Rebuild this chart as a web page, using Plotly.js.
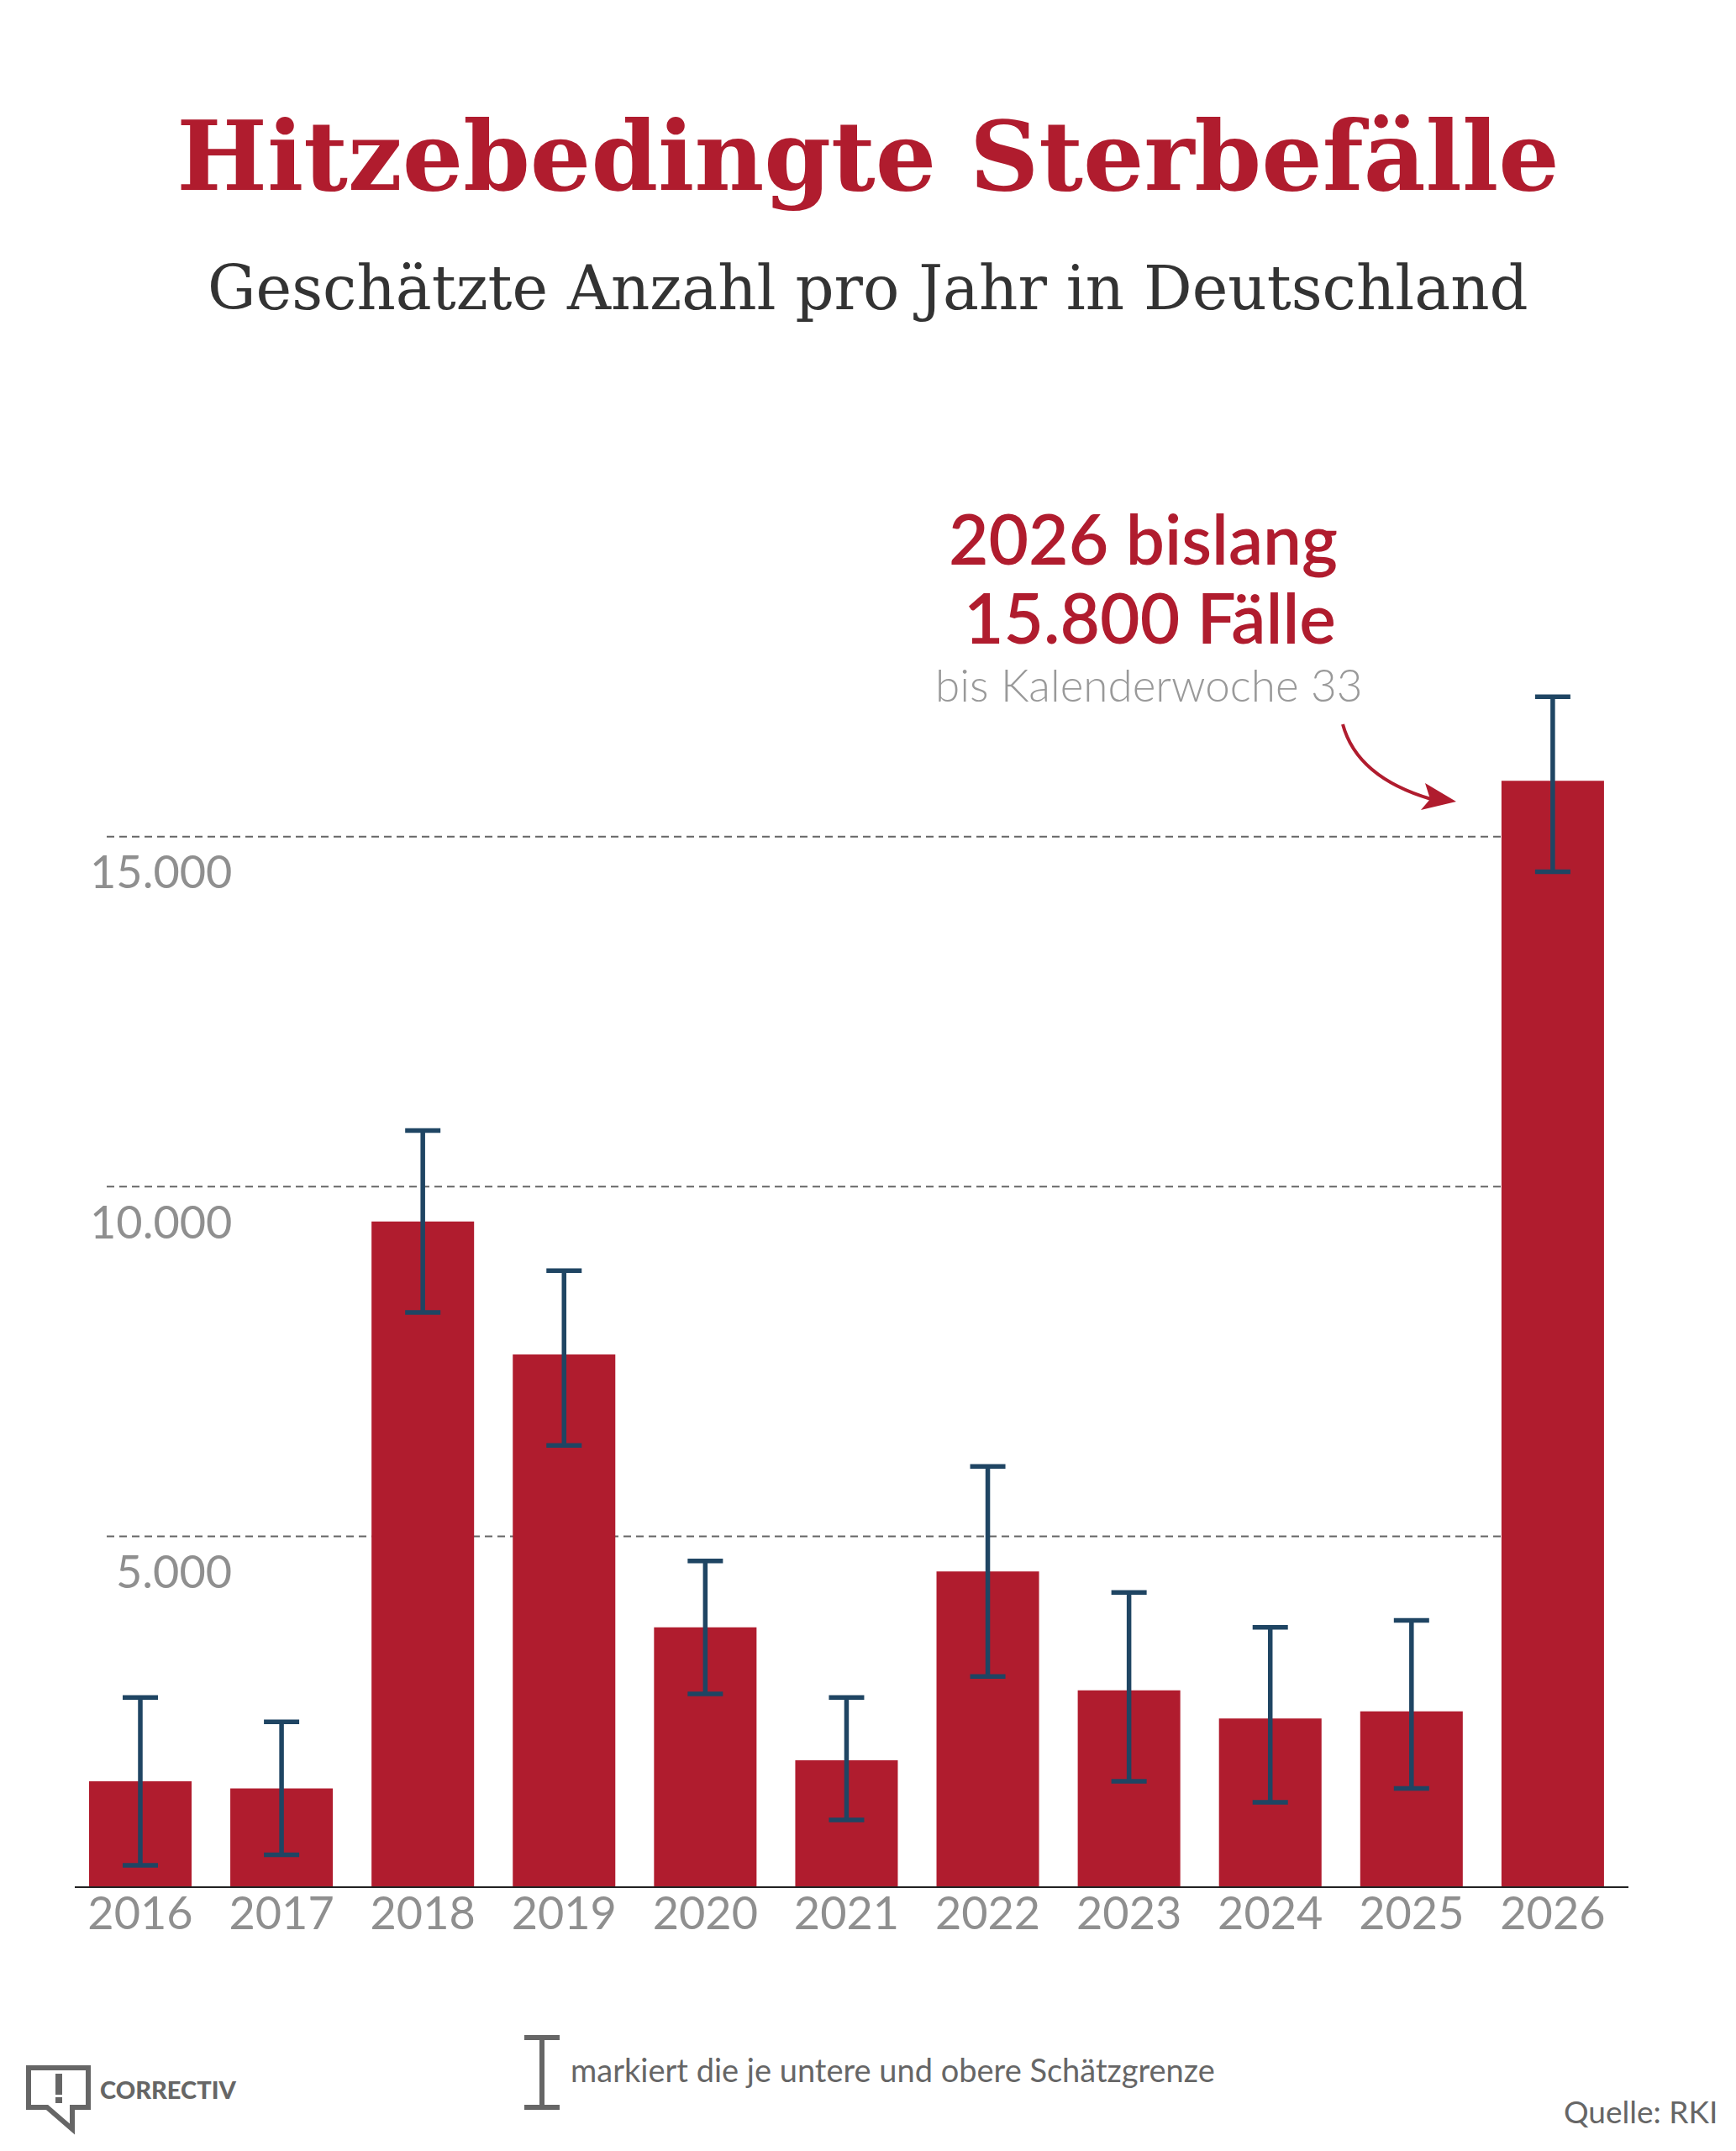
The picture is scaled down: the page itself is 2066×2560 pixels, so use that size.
<!DOCTYPE html>
<html>
<head>
<meta charset="utf-8">
<script src="https://cdn.plot.ly/plotly-3.0.1.min.js"></script>
<style>html,body{margin:0;padding:0;background:#fff;}#chart{width:2066px;height:2560px;}</style>
</head>
<body>
<div id="chart"></div>
<script>
// ---- data ----
const years = ["2016","2017","2018","2019","2020","2021","2022","2023","2024","2025","2026"];
const deaths = [1500, 1400, 9500, 7600, 3700, 1800, 4500, 2800, 2400, 2500, 15800];
const upperBound = [2700, 2350, 10800, 8800, 4650, 2700, 6000, 4200, 3700, 3800, 17000];
const lowerBound = [300, 450, 8200, 6300, 2750, 950, 3000, 1500, 1200, 1400, 14500];
const yTickValues = [5000, 10000, 15000];
const yTickLabels = ["5.000", "10.000", "15.000"];

// ---- layout geometry (pixels) ----
const W = 2066, H = 2560, L = 89, R = 128, T = 746, B = 315;
const PW = W - L - R, PH = H - T - B;
const px = x => (x - L) / PW;
const py = y => (H - B - y) / PH;
const P = (x, y) => px(x).toFixed(5) + ',' + py(y).toFixed(5);

const RED = '#b01c2e', BLUE = '#1f4563', GREY = '#8f8f8f', DARK = '#666666';
const SANS = 'Lato, "Source Sans Pro", "Noto Sans", sans-serif';

const trace = {
  type: 'bar',
  x: years,
  y: deaths,
  marker: {color: RED, line: {width: 0}},
  error_y: {
    type: 'data', symmetric: false,
    array: upperBound.map((u, i) => u - deaths[i]),
    arrayminus: deaths.map((d, i) => d - lowerBound[i]),
    color: BLUE, thickness: 5.5, width: 21
  },
  hoverinfo: 'none'
};

const shapes = [];
// dashed gridlines
yTickValues.forEach(v => {
  shapes.push({type: 'line', xref: 'paper', yref: 'y', x0: px(127), x1: px(1848), y0: v, y1: v,
    layer: 'below', line: {color: '#666', width: 2, dash: '9px,6px'}});
});
// arrow
shapes.push({type: 'path', xref: 'paper', yref: 'paper',
  path: 'M' + P(1598, 862) + ' Q' + P(1615, 925) + ' ' + P(1703, 951),
  line: {color: RED, width: 4}, fillcolor: 'rgba(0,0,0,0)'});
shapes.push({type: 'path', xref: 'paper', yref: 'paper',
  path: 'M' + P(1733, 954) + ' L' + P(1696, 932) + ' L' + P(1702, 951) + ' L' + P(1691, 964) + ' Z',
  line: {width: 0}, fillcolor: RED});
// legend error-bar icon
shapes.push({type: 'line', xref: 'paper', yref: 'paper', x0: px(645), x1: px(645), y0: py(2425), y1: py(2508), line: {color: DARK, width: 6}});
shapes.push({type: 'line', xref: 'paper', yref: 'paper', x0: px(624), x1: px(666), y0: py(2425), y1: py(2425), line: {color: DARK, width: 6}});
shapes.push({type: 'line', xref: 'paper', yref: 'paper', x0: px(624), x1: px(666), y0: py(2508), y1: py(2508), line: {color: DARK, width: 6}});
// CORRECTIV logo bubble
shapes.push({type: 'path', xref: 'paper', yref: 'paper',
  path: 'M' + P(34, 2461) + ' L' + P(105, 2461) + ' L' + P(105, 2508) + ' L' + P(86, 2508) + ' L' + P(86, 2534) +
        ' L' + P(56, 2508) + ' L' + P(34, 2508) + ' Z',
  line: {color: DARK, width: 6}, fillcolor: 'rgba(0,0,0,0)'});
shapes.push({type: 'rect', xref: 'paper', yref: 'paper', x0: px(66), x1: px(74), y0: py(2468), y1: py(2493), line: {width: 0}, fillcolor: DARK});
shapes.push({type: 'rect', xref: 'paper', yref: 'paper', x0: px(66), x1: px(74), y0: py(2496), y1: py(2503), line: {width: 0}, fillcolor: DARK});

const annotations = [];
// y tick labels under the gridlines
yTickValues.forEach((v, i) => {
  annotations.push({xref: 'paper', yref: 'y', x: px(278), y: v, xanchor: 'right', yanchor: 'middle', yshift: -41,
    text: yTickLabels[i], showarrow: false, font: {family: SANS, size: 54, color: GREY}});
});
// subtitle
annotations.push({xref: 'paper', yref: 'paper', x: px(W / 2), y: py(343), xanchor: 'center', yanchor: 'middle',
  text: 'Geschätzte Anzahl pro Jahr in Deutschland', showarrow: false,
  font: {family: '"DejaVu Serif", serif', size: 72, color: '#333333'}});
// callout
annotations.push({xref: 'paper', yref: 'paper', x: px(1360), y: py(640), xanchor: 'center', yanchor: 'middle',
  text: '2026 bislang', showarrow: false, font: {family: SANS, size: 82, color: RED, weight: 600}});
annotations.push({xref: 'paper', yref: 'paper', x: px(1368), y: py(734), xanchor: 'center', yanchor: 'middle',
  text: '15.800 Fälle', showarrow: false, font: {family: SANS, size: 82, color: RED, weight: 600}});
annotations.push({xref: 'paper', yref: 'paper', x: px(1367), y: py(815), xanchor: 'center', yanchor: 'middle',
  text: 'bis Kalenderwoche 33', showarrow: false, font: {family: SANS, size: 53, color: '#999999', weight: 300}});
// footer
annotations.push({xref: 'paper', yref: 'paper', x: px(677), y: py(2463), xanchor: 'left', yanchor: 'middle',
  text: 'markiert die je untere und obere Schätzgrenze', showarrow: false, font: {family: SANS, size: 38, color: DARK}});
annotations.push({xref: 'paper', yref: 'paper', x: px(2046), y: py(2512), xanchor: 'right', yanchor: 'middle',
  text: 'Quelle: RKI', showarrow: false, font: {family: SANS, size: 37, color: DARK}});
annotations.push({xref: 'paper', yref: 'paper', x: px(117), y: py(2486), xanchor: 'left', yanchor: 'middle',
  text: 'CORRECTIV', showarrow: false, font: {family: SANS, size: 29, color: DARK, weight: 900}});

const layout = {
  width: W, height: H,
  margin: {l: L, r: R, t: T, b: B, pad: 0},
  paper_bgcolor: '#ffffff', plot_bgcolor: '#ffffff',
  showlegend: false,
  bargap: 0.274,
  title: {text: 'Hitzebedingte Sterbefälle', x: 0.5, xanchor: 'center', xref: 'container',
    y: 1 - 186 / H, yanchor: 'middle', yref: 'container',
    font: {family: '"DejaVu Serif", serif', size: 114, color: RED, weight: 700}},
  xaxis: {type: 'category', range: [-0.464, 10.536], showgrid: false, zeroline: false,
    showline: true, linecolor: '#222', linewidth: 2, ticks: '', ticklabelstandoff: -16,
    tickfont: {family: SANS, size: 54, color: GREY}, fixedrange: true},
  yaxis: {range: [0, 18000], showgrid: false, zeroline: false, showline: false,
    showticklabels: false, ticks: '', fixedrange: true},
  shapes: shapes,
  annotations: annotations
};

Plotly.newPlot('chart', [trace], layout, {displayModeBar: false, staticPlot: true});
</script>
</body>
</html>
